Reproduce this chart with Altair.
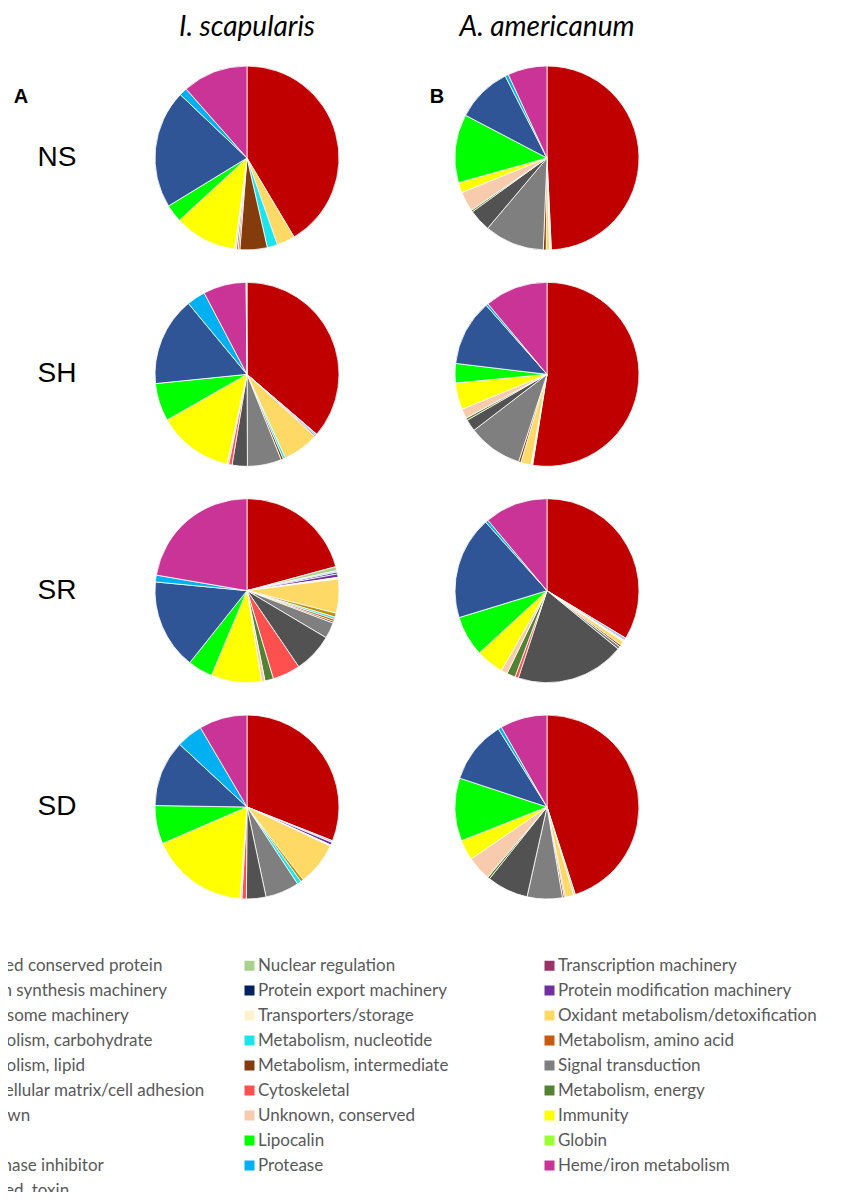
import altair as alt
import pandas as pd

species = ["I. scapularis", "A. americanum"]
samples = ["NS", "SH", "SR", "SD"]

categories = [
    "Secreted conserved protein", "Nuclear regulation", "Transcription machinery",
    "Protein synthesis machinery", "Protein export machinery", "Protein modification machinery",
    "Proteasome machinery", "Transporters/storage", "Oxidant metabolism/detoxification",
    "Metabolism, carbohydrate", "Metabolism, nucleotide", "Metabolism, amino acid",
    "Metabolism, lipid", "Metabolism, intermediate", "Signal transduction",
    "Extracellular matrix/cell adhesion", "Cytoskeletal", "Metabolism, energy",
    "Unknown", "Unknown, conserved", "Immunity",
    "Mucin", "Lipocalin", "Globin",
    "Proteinase inhibitor", "Protease", "Heme/iron metabolism",
    "Secreted, toxin",
]
colors = [
    "#C00000", "#A9D18E", "#993366",
    "#B4C7E7", "#002060", "#7030A0",
    "#D9D9D9", "#FFF2CC", "#FFD966",
    "#BF9000", "#1CE4EC", "#C55A11",
    "#806000", "#843C0C", "#7F7F7F",
    "#525252", "#FF5050", "#548235",
    "#AFABAB", "#F8CBAD", "#FFFF00",
    "#C5E0B4", "#00FF00", "#99FF33",
    "#2F5597", "#00B0F0", "#CA3497",
    "#D4C46A",
]

# percentages per category (same order as categories)
is_ns = [41.4, 0, 0, 0, 0, 0, 0, 0, 3.2, 0, 1.8, 0, 0, 4.8, 0, 0, 0.3, 0.3, 0, 0.3, 11.0, 0, 3.1, 0, 20.8, 1.4, 11.5, 0]
aa_ns = [49.2, 0, 0, 0, 0, 0, 0, 0.3, 0.6, 0, 0, 0, 0, 0.5, 10.5, 3.9, 0, 0.3, 0, 3.5, 1.8, 0, 12.0, 0, 9.8, 0.6, 6.9, 0]
is_sh = [36.5, 0, 0, 0.3, 0, 0.2, 0, 0, 6.4, 0, 0.4, 0, 0, 0.4, 6.0, 2.7, 0.6, 0, 0, 0.3, 13.3, 0, 6.7, 0, 15.7, 3.3, 7.6, 0.15]
aa_sh = [52.5, 0, 0, 0, 0, 0, 0, 0.3, 1.8, 0, 0, 0, 0, 0.4, 9.6, 2.1, 0, 0.4, 0, 1.7, 4.7, 0, 3.4, 0, 11.6, 0.4, 11.1, 0]
is_sr = [20.9, 0.7, 0, 0.3, 0.3, 0.6, 0, 0.3, 6.0, 0.7, 0.4, 0.4, 0, 0.3, 2.8, 7.0, 4.9, 1.5, 0, 0.6, 8.9, 0, 4.4, 0, 15.9, 1.2, 22.4, 0]
aa_sr = [33.6, 0, 0, 0.5, 0, 0, 0, 0.3, 0.7, 0, 0, 0, 0, 0.3, 0.5, 19.1, 0.6, 1.5, 0, 1.1, 4.9, 0, 7.1, 0, 18.1, 0.5, 11.1, 0]
is_sd = [30.8, 0, 0, 0.3, 0, 0.5, 0, 0.2, 7.5, 0.5, 0.7, 0, 0, 0, 5.9, 3.4, 0.8, 0, 0, 0.3, 17.2, 0, 6.7, 0, 11.6, 4.6, 8.4, 0]
aa_sd = [45.2, 0.3, 0, 0, 0, 0, 0, 0, 1.5, 0, 0, 0.2, 0, 0.3, 6.2, 7.3, 0, 0.4, 0, 4.3, 3.6, 0, 11.1, 0, 11.1, 0.6, 8.3, 0]

pies = [
    ("I. scapularis", "NS", is_ns), ("A. americanum", "NS", aa_ns),
    ("I. scapularis", "SH", is_sh), ("A. americanum", "SH", aa_sh),
    ("I. scapularis", "SR", is_sr), ("A. americanum", "SR", aa_sr),
    ("I. scapularis", "SD", is_sd), ("A. americanum", "SD", aa_sd),
]

rows = []
for sp, smp, vals in pies:
    for i, (cat, v) in enumerate(zip(categories, vals)):
        if v > 0:
            rows.append({"species": sp, "sample": smp, "category": cat, "order": i, "value": v})
df = pd.DataFrame(rows)

x_enc = alt.X("species:N", scale=alt.Scale(type="point", domain=species, range=[239, 539], padding=0), axis=None)
y_enc = alt.Y("sample:N", scale=alt.Scale(type="point", domain=samples, range=[150, 799], padding=0), axis=None)

arcs = (
    alt.Chart(df)
    .transform_joinaggregate(total="sum(value)", groupby=["species", "sample"])
    .transform_window(cum="sum(value)", groupby=["species", "sample"],
                      sort=[alt.SortField("order")], frame=[None, 0])
    .transform_calculate(t0="(datum.cum - datum.value) / datum.total",
                         t1="datum.cum / datum.total")
    .mark_arc(outerRadius=92, stroke="white", strokeWidth=0.8)
    .encode(
        x=x_enc,
        y=y_enc,
        theta=alt.Theta("t0:Q", scale=alt.Scale(domain=[0, 1]), stack=None),
        theta2="t1:Q",
        color=alt.Color(
            "category:N",
            scale=alt.Scale(domain=categories, range=colors),
            legend=alt.Legend(
                title=None, orient="none", direction="horizontal",
                legendX=-67, legendY=949,
                columns=3, gridAlign="all", columnPadding=24, rowPadding=7,
                symbolType="square", symbolSize=100, symbolStrokeWidth=0,
                labelFont="Lato", labelFontSize=17, labelColor="#595959",
                labelLimit=400, labelOffset=0,
            ),
        ),
    )
)

titles = (
    alt.Chart(pd.DataFrame({"species": species}))
    .mark_text(font="Lato", fontSize=28, fontStyle="italic", baseline="middle", color="black")
    .encode(x=x_enc, y=alt.value(20), text="species:N")
)

row_labels = (
    alt.Chart(pd.DataFrame({"sample": samples}))
    .mark_text(font="Liberation Sans", fontSize=28, baseline="middle", color="black")
    .encode(x=alt.value(49), y=y_enc, text="sample:N")
)

letter_a = (
    alt.Chart(pd.DataFrame({"letter": ["A"]}))
    .mark_text(font="Liberation Sans", fontSize=20, fontWeight="bold", baseline="middle", color="black")
    .encode(x=alt.value(13), y=alt.value(89), text="letter:N")
)
letter_b = (
    alt.Chart(pd.DataFrame({"letter": ["B"]}))
    .mark_text(font="Liberation Sans", fontSize=20, fontWeight="bold", baseline="middle", color="black")
    .encode(x=alt.value(429), y=alt.value(89), text="letter:N")
)

chart = (
    alt.layer(arcs, titles, row_labels, letter_a, letter_b)
    .properties(width=826, height=1184, padding=0,
                autosize=alt.AutoSizeParams(type="none"))
    .configure_view(stroke=None)
)

chart.save("out.html", embed_options={"renderer": "svg", "actions": False})
